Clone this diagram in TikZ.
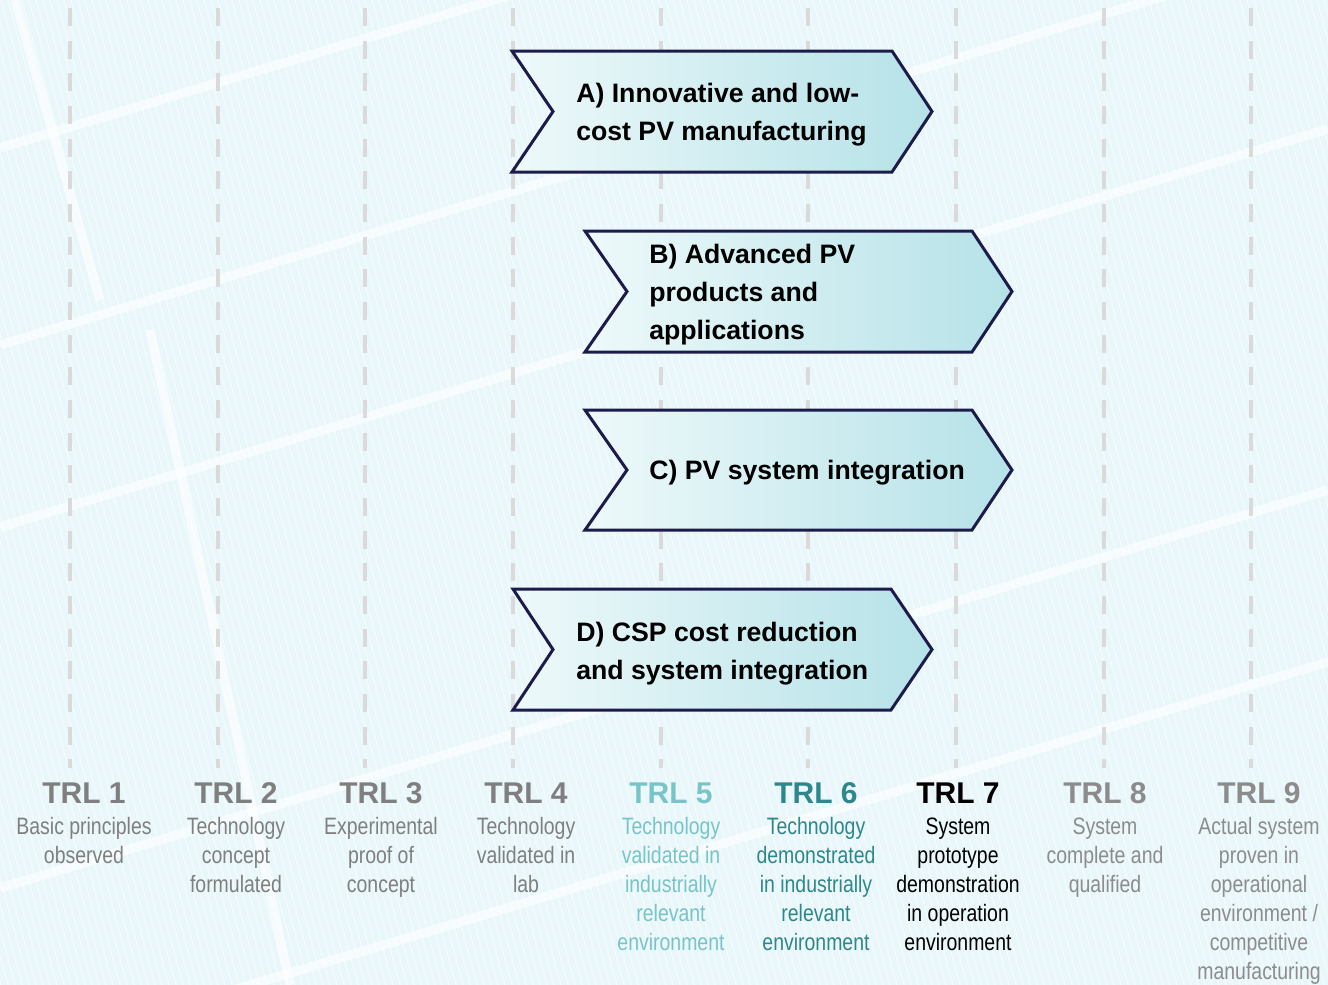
\documentclass[tikz,border=0pt]{standalone}
\usepackage{fontspec}
\setmainfont{Liberation Sans}
\newfontfamily\narrowfont[FakeStretch=0.82]{Liberation Sans}
\definecolor{bgbase}{RGB}{233,247,250}
\definecolor{chevborder}{RGB}{28,27,75}
\definecolor{chevleft}{RGB}{238,249,250}
\definecolor{chevright}{RGB}{181,226,232}
\definecolor{dashgrey}{RGB}{218,218,218}
\definecolor{trlgrey}{RGB}{127,127,127}
\definecolor{trlgreyb}{RGB}{140,140,140}
\definecolor{trlfive}{RGB}{120,196,200}
\definecolor{trlsix}{RGB}{46,135,140}
\tikzset{
  chevron/.style={left color=chevleft, right color=chevright, draw=chevborder, line width=2.25pt, line join=miter},
  chevtext/.style={font=\bfseries\fontsize{20}{28.5}\selectfont, align=left, inner sep=0pt, anchor=west, text=black},
  trlhead/.style={font=\bfseries\fontsize{22.5}{27}\selectfont, inner sep=0pt, anchor=base},
  trldesc/.style={font=\narrowfont\fontsize{17.8}{21.75}\selectfont, align=center, inner sep=0pt, anchor=north},
  trldash/.style={draw=dashgrey, line width=3pt, dash pattern=on 13.5pt off 11pt},
  band/.style={draw=white, line width=7pt, opacity=0.6, line cap=butt},
  stripe/.style={draw=white, line width=1.2pt, opacity=0.4}
}
\begin{document}
\begin{tikzpicture}[x=0.75pt,y=-0.75pt]
\useasboundingbox (0,0) rectangle (1328,985);
% background
\fill[bgbase] (0,0) rectangle (1328,985);
\begin{scope}
  \clip (0,0) rectangle (1328,985);
  \foreach \i in {-300,-293,...,1330} \draw[stripe] (\i,0) -- (\i+266,985);
  \draw[band] (0,148) -- (1328,-250);
  \draw[band] (0,345) -- (1328,-53);
  \draw[band] (0,527) -- (1328,129);
  \draw[band] (0,888) -- (1328,490);
  \draw[band] (0,1060) -- (1328,662);
  \draw[band] (15,0) -- (100,300);
  \draw[band] (150,330) -- (290,985);
\end{scope}
% dashed TRL guides
\foreach \x in {70,218,365,513,661,808,956,1104,1251}
  \draw[trldash] (\x,8) -- (\x,768);
% chevrons
\shadedraw[chevron] (512,51) -- (892,51) -- (932,111.5) -- (892,172) -- (512,172) -- (553,111.5) -- cycle;
\shadedraw[chevron] (585,231) -- (972,231) -- (1012,291.5) -- (972,352) -- (585,352) -- (627,291.5) -- cycle;
\shadedraw[chevron] (585,410) -- (972,410) -- (1012,470) -- (972,530) -- (585,530) -- (627,470) -- cycle;
\shadedraw[chevron] (513,589) -- (891,589) -- (932,649.5) -- (891,710) -- (513,710) -- (553,649.5) -- cycle;
\node[chevtext] (a) at (576,115) {A) Innovative and low-\\cost PV manufacturing};
\node[chevtext] (b) at (649,295) {B) Advanced PV\\products and\\applications};
\node[chevtext] (c) at (649,473) {C) PV system integration};
\node[chevtext] (d) at (576,654) {D) CSP cost reduction\\and system integration};
% TRL headers
\node[trlhead, text=trlgrey] (t1) at (84,803) {TRL 1};
\node[trlhead, text=trlgrey] (t2) at (236,803) {TRL 2};
\node[trlhead, text=trlgrey] (t3) at (381,803) {TRL 3};
\node[trlhead, text=trlgrey] (t4) at (526,803) {TRL 4};
\node[trlhead, text=trlfive] (t5) at (671,803) {TRL 5};
\node[trlhead, text=trlsix] (t6) at (816,803) {TRL 6};
\node[trlhead, text=black] (t7) at (958,803) {TRL 7};
\node[trlhead, text=trlgreyb] (t8) at (1105,803) {TRL 8};
\node[trlhead, text=trlgreyb] (t9) at (1259,803) {TRL 9};
% TRL descriptions
\node[trldesc, text=trlgrey] (d1) at (84,817.5) {Basic principles\\observed};
\node[trldesc, text=trlgrey] (d2) at (236,817.5) {Technology\\concept\\formulated};
\node[trldesc, text=trlgrey] (d3) at (381,817.5) {Experimental\\proof of\\concept};
\node[trldesc, text=trlgrey] (d4) at (526,817.5) {Technology\\validated in\\lab};
\node[trldesc, text=trlfive] (d5) at (671,817.5) {Technology\\validated in\\industrially\\relevant\\environment};
\node[trldesc, text=trlsix] (d6) at (816,817.5) {Technology\\demonstrated\\in industrially\\relevant\\environment};
\node[trldesc, text=black] (d7) at (958,817.5) {System\\prototype\\demonstration\\in operation\\environment};
\node[trldesc, text=trlgreyb] (d8) at (1105,817.5) {System\\complete and\\qualified};
\node[trldesc, text=trlgreyb] (d9) at (1259,817.5) {Actual system\\proven in\\operational\\environment /\\competitive\\manufacturing};
\end{tikzpicture}
\end{document}
